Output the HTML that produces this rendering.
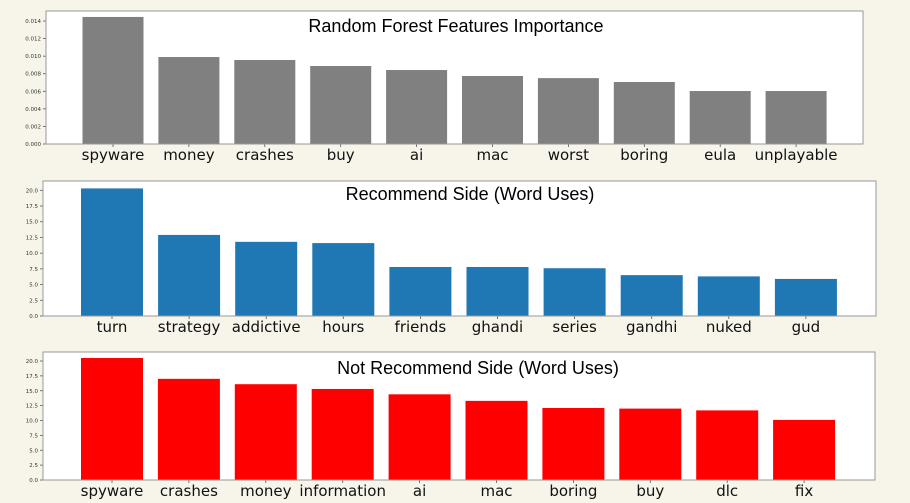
<!DOCTYPE html>
<html><head><meta charset="utf-8"><style>
html,body{margin:0;padding:0;background:#f7f4e9;}
svg{display:block;}
.tick{font-family:"DejaVu Sans",sans-serif;font-size:5.5px;fill:#333;}
.lab{font-family:"DejaVu Sans",sans-serif;font-size:15px;fill:#111;}
.title{font-family:"Liberation Sans",sans-serif;font-size:18px;fill:#000;}
</style></head><body>
<svg id="chart" width="910" height="503" viewBox="0 0 910 503" xmlns="http://www.w3.org/2000/svg"></svg>
<script>
const catsRF = ["spyware","money","crashes","buy","ai","mac","worst","boring","eula","unplayable"];
const valsRF = [0.01446,0.0099,0.00956,0.00888,0.00842,0.00774,0.0075,0.00706,0.00603,0.00603];
const ticksRF = [0,0.002,0.004,0.006,0.008,0.010,0.012,0.014];
const tickLabelsRF = ["0.000","0.002","0.004","0.006","0.008","0.010","0.012","0.014"];

const catsRec = ["turn","strategy","addictive","hours","friends","ghandi","series","gandhi","nuked","gud"];
const valsRec = [20.3,12.9,11.8,11.6,7.8,7.8,7.6,6.5,6.3,5.9];
const catsNot = ["spyware","crashes","money","information","ai","mac","boring","buy","dlc","fix"];
const valsNot = [20.5,17.0,16.1,15.3,14.4,13.3,12.1,12.0,11.7,10.1];
const ticksCount = [0,2.5,5,7.5,10,12.5,15,17.5,20];
const tickLabelsCount = ["0.0","2.5","5.0","7.5","10.0","12.5","15.0","17.5","20.0"];

const NS="http://www.w3.org/2000/svg";
const svg=document.getElementById('chart');
function mk(tag,attrs,parent){const e=document.createElementNS(NS,tag);for(const k in attrs)e.setAttribute(k,attrs[k]);(parent||svg).appendChild(e);return e;}

function panel(cfg){
  const g=mk('g',{});
  
  
  const bg=mk('rect',{x:cfg.left,y:cfg.top,width:cfg.right-cfg.left,height:cfg.bottom-cfg.top,fill:'#fff',stroke:'#999','stroke-width':1},g);
  
  
  const y=v=>cfg.bottom-(v-cfg.ymin)/(cfg.ymaxTick-cfg.ymin)*(cfg.bottom-cfg.yTickTop);
  const x=i=>cfg.x0+i*cfg.step;
  cfg.ticks.forEach((t,i)=>{
    const ty=y(t);
    const l=mk('line',{x1:cfg.left-3,x2:cfg.left,y1:ty,y2:ty,stroke:'#555','stroke-width':0.8},g);
    
    
    const tx=mk('text',{x:cfg.left-5,y:ty+2,'text-anchor':'end',class:'tick'},g);
    tx.textContent=cfg.tickLabels[i];
    
    
  });
  cfg.cats.forEach((c,i)=>{
    const cx=x(i), top=y(cfg.vals[i]);
    const r=mk('rect',{x:cx-cfg.bw/2,y:top,width:cfg.bw,height:cfg.bottom-top,fill:cfg.color},g);
    
    
    const tl=mk('line',{x1:cx,x2:cx,y1:cfg.bottom,y2:cfg.bottom+3,stroke:'#555','stroke-width':0.8},g);
    
    
    const t=mk('text',{x:cx,y:cfg.bottom+16,'text-anchor':'middle',class:'lab'},g);
    t.textContent=c;
    
    
  });
  mk('rect',{x:cfg.left,y:cfg.top,width:cfg.right-cfg.left,height:cfg.bottom-cfg.top,fill:'none',stroke:'#999','stroke-width':1},g);
  const ti=mk('text',{x:cfg.titleX,y:cfg.titleY,'text-anchor':'middle',class:'title'},g);
  ti.textContent=cfg.title;
  
  
}
panel({name:'random-forest-panel',left:46,right:863,top:11,bottom:144,yTickTop:21,ymin:0,ymaxTick:0.014,ticks:ticksRF,tickLabels:tickLabelsRF,cats:catsRF,vals:valsRF,x0:113,step:75.9,bw:61,color:'#808080',title:'Random Forest Features Importance',titleX:456,titleY:32});
panel({name:'recommend-panel',left:43,right:876,top:181,bottom:316,yTickTop:190.3,ymin:0,ymaxTick:20,ticks:ticksCount,tickLabels:tickLabelsCount,cats:catsRec,vals:valsRec,x0:112,step:77.1,bw:62,color:'#1f77b4',title:'Recommend Side (Word Uses)',titleX:470,titleY:200});
panel({name:'not-recommend-panel',left:43,right:875,top:352,bottom:480,yTickTop:361,ymin:0,ymaxTick:20,ticks:ticksCount,tickLabels:tickLabelsCount,cats:catsNot,vals:valsNot,x0:112,step:76.9,bw:62,color:'#ff0000',title:'Not Recommend Side (Word Uses)',titleX:478,titleY:374});
</script>
</body></html>
